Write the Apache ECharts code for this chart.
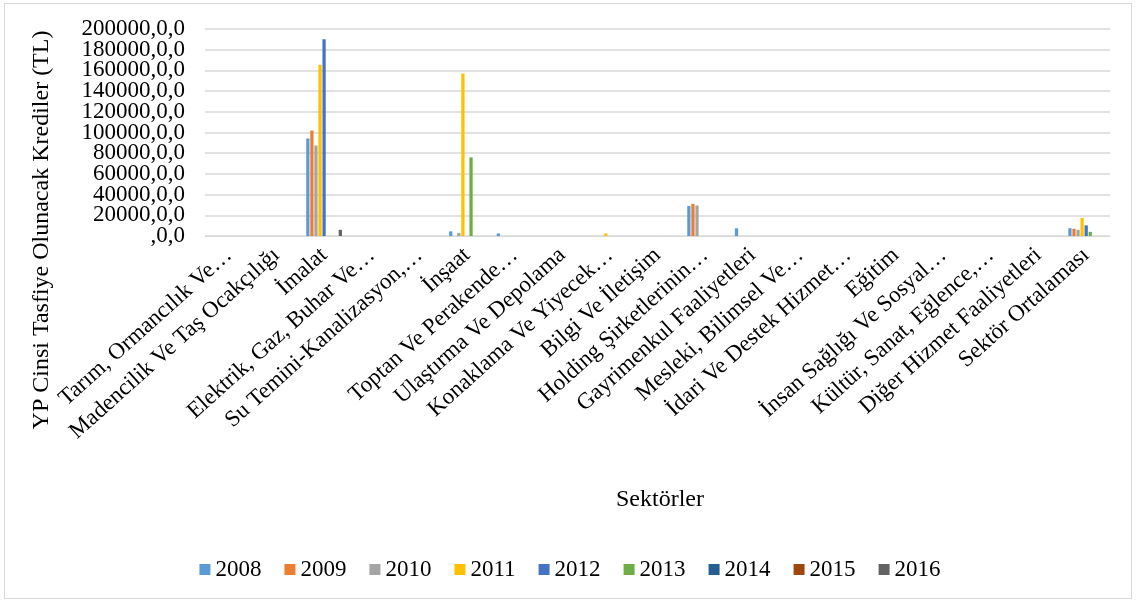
<!DOCTYPE html>
<html>
<head>
<meta charset="utf-8">
<script src="https://cdn.jsdelivr.net/npm/echarts@6/dist/echarts.min.js"></script>
<style>
  html, body { margin: 0; padding: 0; background: #fff; }
  #frame { position: absolute; left: 4px; top: 3px; width: 1126px; height: 594px; border: 1px solid #d9d9d9; }
  #main { position: absolute; left: 0; top: 0; width: 1140px; height: 606px; }
</style>
</head>
<body>
<div id="frame"></div>
<div id="main"></div>
<script>
  var sektorler = [
    'Tarım, Ormancılık Ve…', 'Madencilik Ve Taş Ocakçılığı', 'İmalat', 'Elektrik, Gaz, Buhar Ve…',
    'Su Temini-Kanalizasyon,…', 'İnşaat', 'Toptan Ve Perakende…', 'Ulaştırma Ve Depolama',
    'Konaklama Ve Yiyecek…', 'Bilgi Ve İletişim', 'Holding Şirketlerinin…', 'Gayrimenkul Faaliyetleri',
    'Mesleki, Bilimsel Ve…', 'İdari Ve Destek Hizmet…', 'Eğitim', 'İnsan Sağlığı Ve Sosyal…',
    'Kültür, Sanat, Eğlence,…', 'Diğer Hizmet Faaliyetleri', 'Sektör Ortalaması'
  ];
  var yillar = ['2008', '2009', '2010', '2011', '2012', '2013', '2014', '2015', '2016'];
  var renkler = ['#5B9BD5', '#ED7D31', '#A5A5A5', '#FFC000', '#4472C4', '#70AD47', '#255E91', '#9E480E', '#636363'];

  var v2008 = [0, 0, 94200, 0, 0, 4500, 2500, 0, 0, 0, 29000, 7400, 0, 0, 0, 0, 0, 0, 7500];
  var v2009 = [0, 0, 101900, 0, 0, 0, 0, 0, 0, 0, 31000, 0, 0, 0, 0, 0, 0, 0, 7000];
  var v2010 = [0, 0, 87500, 0, 0, 3000, 0, 0, 0, 0, 29500, 0, 0, 0, 0, 0, 0, 0, 6000];
  var v2011 = [0, 0, 165400, 0, 0, 157000, 0, 0, 2500, 0, 0, 0, 0, 0, 0, 0, 0, 0, 17400];
  var v2012 = [0, 0, 190100, 0, 0, 0, 0, 0, 0, 0, 0, 0, 0, 0, 0, 0, 0, 0, 10300];
  var v2013 = [0, 0, 0, 0, 0, 76000, 0, 0, 0, 0, 0, 0, 0, 0, 0, 0, 0, 0, 4000];
  var v2014 = [0, 0, 0, 0, 0, 0, 0, 0, 0, 0, 0, 0, 0, 0, 0, 0, 0, 0, 0];
  var v2015 = [0, 0, 0, 0, 0, 0, 0, 0, 0, 0, 0, 0, 0, 0, 0, 0, 0, 0, 0];
  var v2016 = [0, 0, 6000, 0, 0, 0, 0, 0, 0, 0, 0, 0, 0, 0, 0, 0, 0, 0, 0];
  var degerler = [v2008, v2009, v2010, v2011, v2012, v2013, v2014, v2015, v2016];

  var font = '"Liberation Serif", "Times New Roman", serif';
  var chart = echarts.init(document.getElementById('main'));

  function etiket(v) {
    return v === 0 ? ',0,0' : v + ',0,0';
  }

  // labels are tall and packed tightly, so split them over two axes sharing one scale
  // (otherwise ECharts hides the ones that touch)
  function yEkseni(cift) {
    return {
      type: 'value',
      position: 'left',
      min: 0,
      max: 200000,
      interval: 20000,
      axisLine: { show: false },
      axisTick: { show: false },
      splitLine: { show: cift, lineStyle: { color: '#d9d9d9', width: 1.5 } },
      axisLabel: {
        margin: 20,
        fontFamily: font,
        fontSize: 23,
        color: '#000',
        formatter: function (v) {
          var ciftMi = (v / 20000) % 2 === 0;
          return ciftMi === cift ? etiket(v) : '';
        }
      }
    };
  }

  var seriler = yillar.map(function (y, i) {
    return {
      name: y,
      type: 'bar',
      data: degerler[i],
      yAxisIndex: 0,
      itemStyle: { color: renkler[i] },
      barGap: '25%',
      barCategoryGap: '25%',
      silent: true
    };
  });

  chart.setOption({
    animation: false,
    color: renkler,
    textStyle: { fontFamily: font },
    grid: { left: 205, right: 30, top: 29, bottom: 370 },
    legend: {
      bottom: 20,
      left: 'center',
      itemWidth: 11,
      itemHeight: 11,
      itemGap: 23,
      icon: 'rect',
      textStyle: { fontFamily: font, fontSize: 23, color: '#000' },
      data: yillar
    },
    xAxis: {
      type: 'category',
      data: sektorler,
      axisLine: { lineStyle: { color: '#d9d9d9', width: 1 } },
      axisTick: { show: false },
      axisLabel: {
        interval: 0,
        rotate: 42,
        margin: 16,
        fontFamily: font,
        fontSize: 23,
        color: '#000'
      }
    },
    yAxis: [yEkseni(true), yEkseni(false)],
    graphic: [
      {
        type: 'text',
        x: 42, y: 230,
        rotation: Math.PI / 2,
        style: {
          text: 'YP Cinsi Tasfiye Olunacak Krediler (TL)',
          font: '24px ' + font,
          fill: '#000',
          textAlign: 'center',
          textVerticalAlign: 'middle'
        }
      },
      {
        type: 'text',
        x: 660, y: 500,
        style: {
          text: 'Sektörler',
          font: '24px ' + font,
          fill: '#000',
          textAlign: 'center',
          textVerticalAlign: 'middle'
        }
      }
    ],
    series: seriler
  });
</script>
</body>
</html>
